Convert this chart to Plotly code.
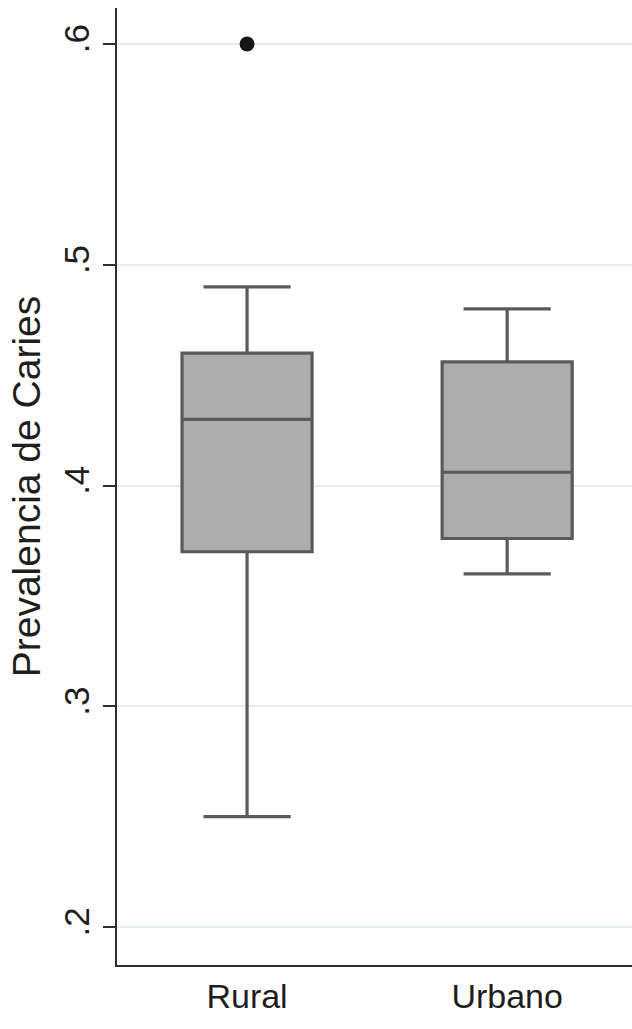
import plotly.graph_objects as go

# Summary statistics of caries prevalence by area
categories = ["Rural", "Urbano"]
lower_whisker = [0.25, 0.36]
q1 = [0.37, 0.376]
median = [0.43, 0.406]
q3 = [0.46, 0.456]
upper_whisker = [0.49, 0.48]

# Outlying observations (category index, value)
outlier_cat = [0]
outlier_val = [0.60]

y_ticks = [0.2, 0.3, 0.4, 0.5, 0.6]
y_tick_text = [".2", ".3", ".4", ".5", ".6"]

positions = list(range(len(categories)))

FONT = "Liberation Sans, Arial, sans-serif"
BOX_LINE = "#5a5a5a"
BOX_FILL = "#adadad"
GRID = "#e6eded"
AXIS = "#2e2e2e"

fig = go.Figure()

fig.add_trace(go.Box(
    x=positions,
    q1=q1,
    median=median,
    q3=q3,
    lowerfence=lower_whisker,
    upperfence=upper_whisker,
    width=0.5,
    whiskerwidth=0.67,
    fillcolor=BOX_FILL,
    line=dict(color=BOX_LINE, width=3.2),
    boxpoints=False,
    showlegend=False,
    hoverinfo="skip",
))

fig.add_trace(go.Scatter(
    x=outlier_cat,
    y=outlier_val,
    mode="markers",
    marker=dict(color="#151515", size=15, line=dict(width=0)),
    showlegend=False,
    hoverinfo="skip",
))

fig.update_layout(
    width=632,
    height=1029,
    margin=dict(l=117, r=0, t=8, b=64),
    paper_bgcolor="white",
    plot_bgcolor="white",
    font=dict(family=FONT, color="#1e1e1e"),
)

fig.update_xaxes(
    range=[-0.5, 1.48],
    tickmode="array",
    tickvals=positions,
    ticktext=categories,
    tickfont=dict(size=34, family=FONT, color="#1e1e1e"),
    showgrid=False,
    zeroline=False,
    showline=True,
    linecolor=AXIS,
    linewidth=2,
    ticks="",
    ticklabelstandoff=0,
)

fig.update_yaxes(
    range=[0.1828, 0.6163],
    tickmode="array",
    tickvals=y_ticks,
    ticktext=y_tick_text,
    tickangle=-90,
    tickfont=dict(size=35, family=FONT, color="#1e1e1e"),
    ticks="outside",
    ticklen=12,
    tickwidth=2,
    tickcolor=AXIS,
    showgrid=True,
    gridcolor=GRID,
    gridwidth=2,
    zeroline=False,
    showline=True,
    linecolor=AXIS,
    linewidth=2,
    title=dict(text="Prevalencia de Caries",
               font=dict(size=39, family=FONT, color="#1e1e1e"),
               standoff=4),
)

fig.write_html("out.html")
